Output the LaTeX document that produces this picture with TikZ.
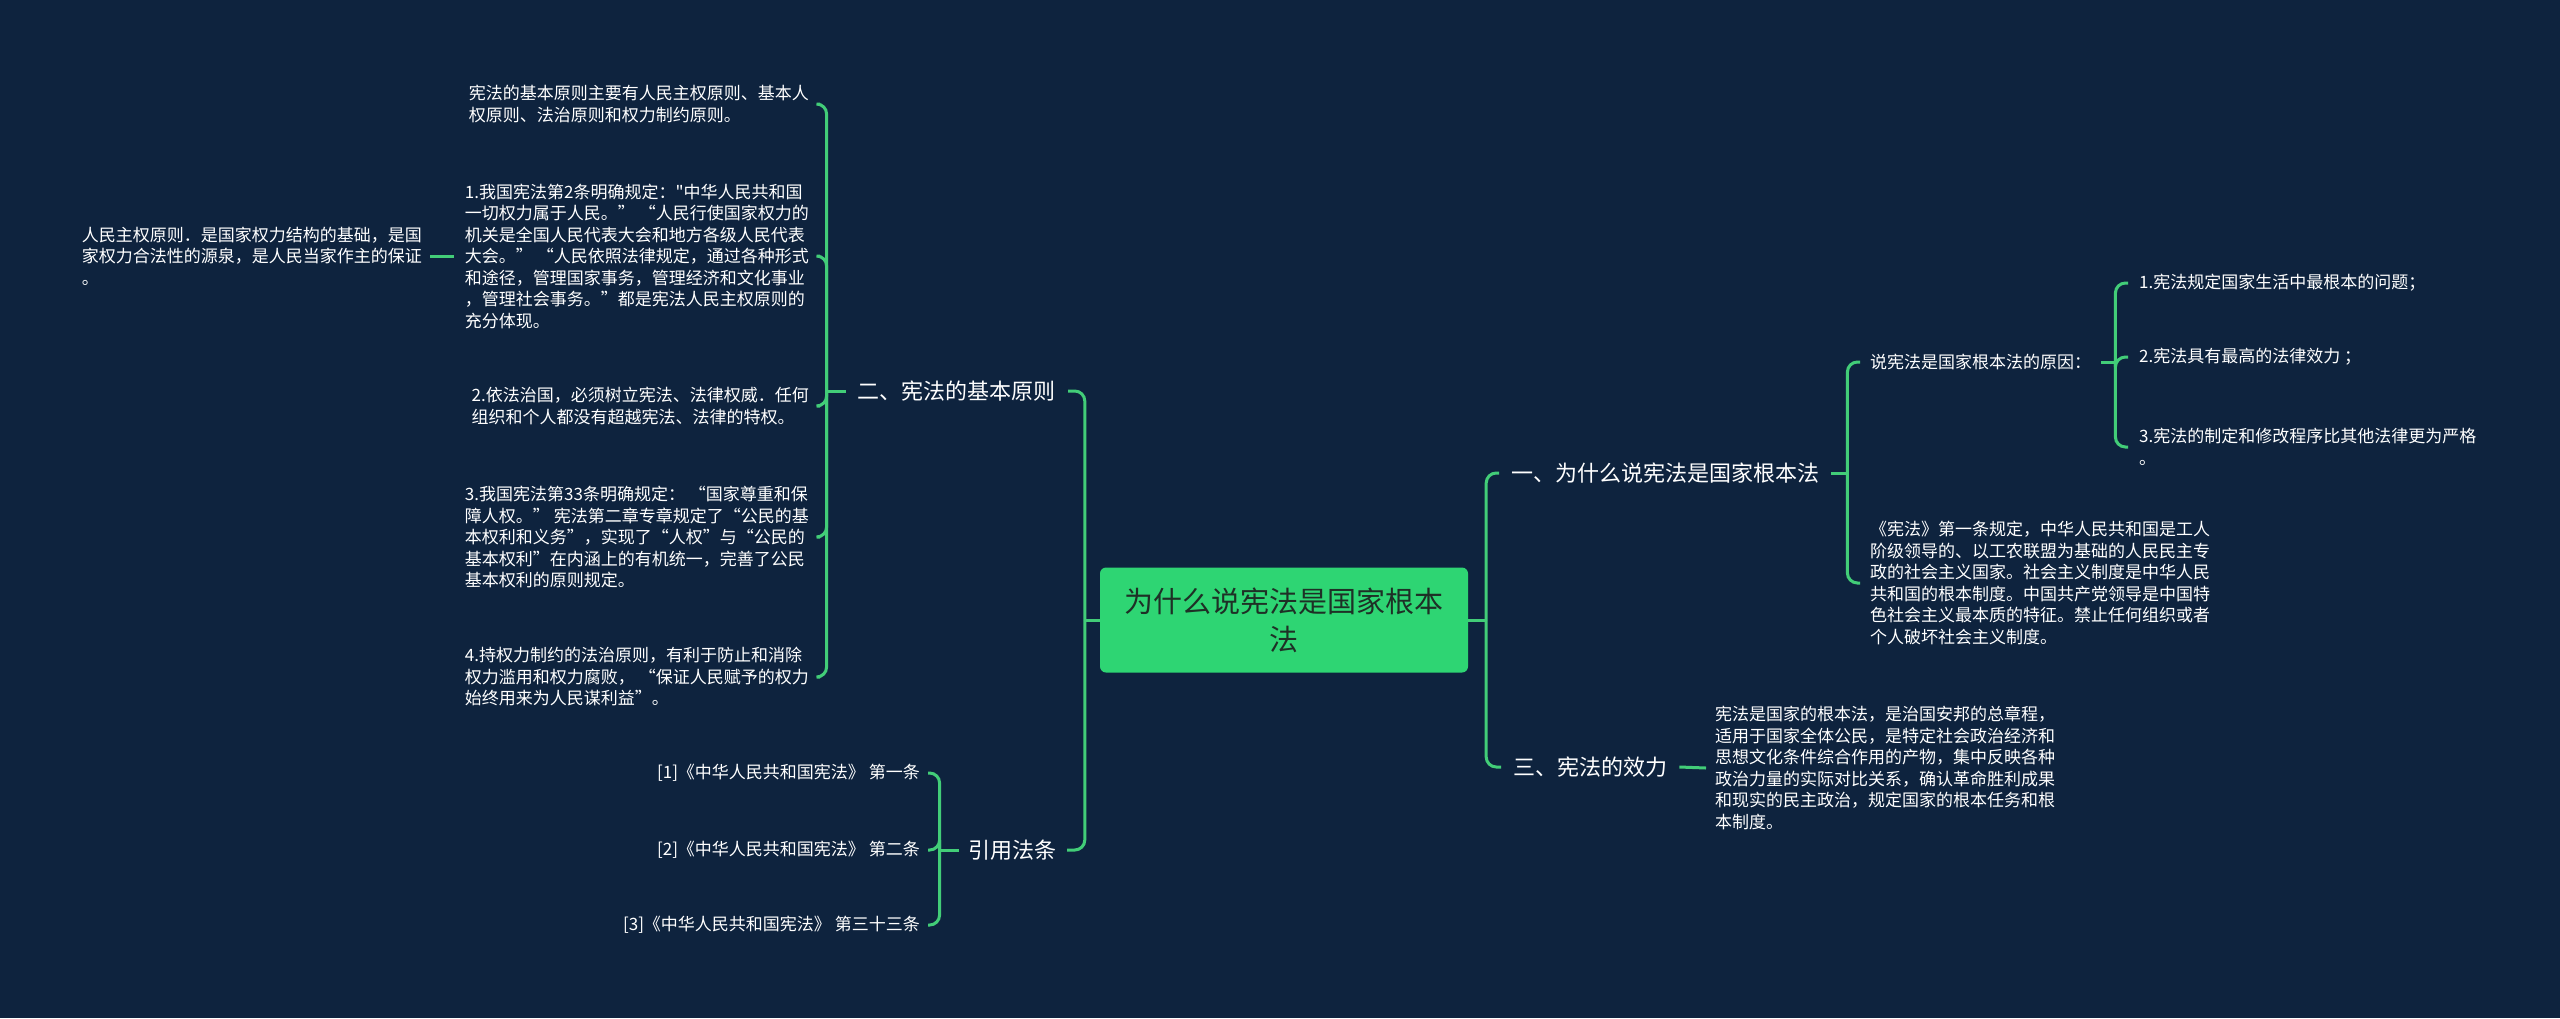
\documentclass[tikz,border=0pt]{standalone}
\usepackage{fontspec}
\setmainfont{Noto Sans CJK SC}[Ligatures=TeXOff]
\usetikzlibrary{calc}
\definecolor{bg}{RGB}{14,35,62}
\definecolor{rootg}{RGB}{46,213,115}
\definecolor{lineg}{RGB}{66,205,120}
\definecolor{roottxt}{RGB}{30,48,38}
\begin{document}
\begin{tikzpicture}[x=1pt,y=-1pt,
  conn/.style={draw=lineg, line width=3pt},
  elbow/.style={conn, rounded corners=10pt},
  leaf/.style={text=white, font=\fontsize{17pt}{21.5pt}\selectfont, align=left, inner xsep=11pt, inner ysep=2pt},
  branch/.style={text=white, font=\fontsize{22pt}{26pt}\selectfont, inner xsep=12pt, inner ysep=2pt},
  rootbox/.style={fill=rootg, rounded corners=6pt, minimum width=368pt, minimum height=105pt, text=roottxt, font=\fontsize{29pt}{38pt}\selectfont, align=center, inner sep=0pt}
]
\fill[bg] (0,0) rectangle (2560,1018);
\useasboundingbox (0,0) rectangle (2560,1018);

% root
\node[rootbox] (root) at (1284,620) {为什么说宪法是国家根本\\法};

% branches
\node[branch, anchor=west] (b1) at (1499,473) {一、为什么说宪法是国家根本法};
\node[branch, anchor=west] (b3p) at (1501,767) {三、宪法的效力};
\node[branch, anchor=east] (b2) at (1068,391) {二、宪法的基本原则};
\node[branch, anchor=east, inner xsep=10pt] (b3) at (1067,850) {引用法条};

% right side leaves
\node[leaf, anchor=west, inner xsep=10pt] (a1) at (1860,362) {说宪法是国家根本法的原因：};
\node[leaf, anchor=west, inner xsep=10pt] (a2) at (1860,583) {《宪法》第一条规定，中华人民共和国是工人\\阶级领导的、以工农联盟为基础的人民民主专\\政的社会主义国家。社会主义制度是中华人民\\共和国的根本制度。中国共产党领导是中国特\\色社会主义最本质的特征。禁止任何组织或者\\个人破坏社会主义制度。};
\node[leaf, anchor=west] (e1) at (2128,283) {1.宪法规定国家生活中最根本的问题；};
\node[leaf, anchor=west] (e2) at (2128,357) {2.宪法具有最高的法律效力 ；};
\node[leaf, anchor=west] (e3) at (2128,447) {3.宪法的制定和修改程序比其他法律更为严格\\。};
\node[leaf, anchor=west, inner xsep=9pt] (p3) at (1706,768) {宪法是国家的根本法，是治国安邦的总章程，\\适用于国家全体公民，是特定社会政治经济和\\思想文化条件综合作用的产物，集中反映各种\\政治力量的实际对比关系，确认革命胜利成果\\和现实的民主政治，规定国家的根本任务和根\\本制度。};

% left side leaves
\node[leaf, anchor=east] (c0) at (820,104) {宪法的基本原则主要有人民主权原则、基本人\\权原则、法治原则和权力制约原则。};
\node[leaf, anchor=east] (c1) at (820,256) {1.我国宪法第2条明确规定："中华人民共和国\\一切权力属于人民。” “人民行使国家权力的\\机关是全国人民代表大会和地方各级人民代表\\大会。” “人民依照法律规定，通过各种形式\\和途径，管理国家事务，管理经济和文化事业\\，管理社会事务。”都是宪法人民主权原则的\\充分体现。};
\node[leaf, anchor=east] (c2) at (820,406) {2.依法治国，必须树立宪法、法律权威．任何\\组织和个人都没有超越宪法、法律的特权。};
\node[leaf, anchor=east] (c3) at (820,537) {3.我国宪法第33条明确规定： “国家尊重和保\\障人权。” 宪法第二章专章规定了“公民的基\\本权利和义务”，实现了“人权”与“公民的\\基本权利”在内涵上的有机统一，完善了公民\\基本权利的原则规定。};
\node[leaf, anchor=east] (c4) at (820,677) {4.持权力制约的法治原则，有利于防止和消除\\权力滥用和权力腐败， “保证人民赋予的权力\\始终用来为人民谋利益”。};
\node[leaf, anchor=east, inner xsep=8pt] (d1) at (430,256) {人民主权原则．是国家权力结构的基础，是国\\家权力合法性的源泉，是人民当家作主的保证\\。};
\node[leaf, anchor=east, inner xsep=8pt] (r1) at (928,773) {[1]《中华人民共和国宪法》 第一条};
\node[leaf, anchor=east, inner xsep=8pt] (r2) at (928,850) {[2]《中华人民共和国宪法》 第二条};
\node[leaf, anchor=east, inner xsep=8pt] (r3) at (928,925) {[3]《中华人民共和国宪法》 第三十三条};

% connectors: root
\coordinate (rootL) at ($(root.west)+(-15,0)$);
\coordinate (rootR) at ($(root.east)+(18,0)$);
\draw[conn] (root.west) -- (rootL);
\draw[conn] (root.east) -- (rootR);
\draw[elbow] (rootL) |- (b2.east);
\draw[elbow] (rootL) |- (b3.east);
\draw[elbow] (rootR) |- (b1.west);
\draw[elbow] (rootR) |- (b3p.west);

% b1
\coordinate (b1R) at ($(b1.east)+(16,0)$);
\draw[conn] (b1.east) -- (b1R);
\draw[elbow] (b1R) |- (a1.west);
\draw[elbow] (b1R) |- (a2.west);

% a1
\coordinate (a1R) at ($(a1.east)+(14,0)$);
\draw[conn] (a1.east) -- (a1R);
\draw[elbow] (a1R) |- (e1.west);
\draw[elbow] (a1R) |- (e2.west);
\draw[elbow] (a1R) |- (e3.west);

% b3p
\draw[conn] (b3p.east) -- (p3.west);

% b2
\coordinate (b2L) at ($(b2.west)+(-19,0)$);
\draw[conn] (b2.west) -- (b2L);
\draw[elbow] (b2L) |- (c0.east);
\draw[elbow] (b2L) |- (c1.east);
\draw[elbow] (b2L) |- (c2.east);
\draw[elbow] (b2L) |- (c3.east);
\draw[elbow] (b2L) |- (c4.east);

% c1 -> d1
\draw[conn] (c1.west) -- (d1.east);

% b3
\coordinate (b3L) at ($(b3.west)+(-19,0)$);
\draw[conn] (b3.west) -- (b3L);
\draw[elbow] (b3L) |- (r1.east);
\draw[elbow] (b3L) |- (r2.east);
\draw[elbow] (b3L) |- (r3.east);
\end{tikzpicture}
\end{document}
